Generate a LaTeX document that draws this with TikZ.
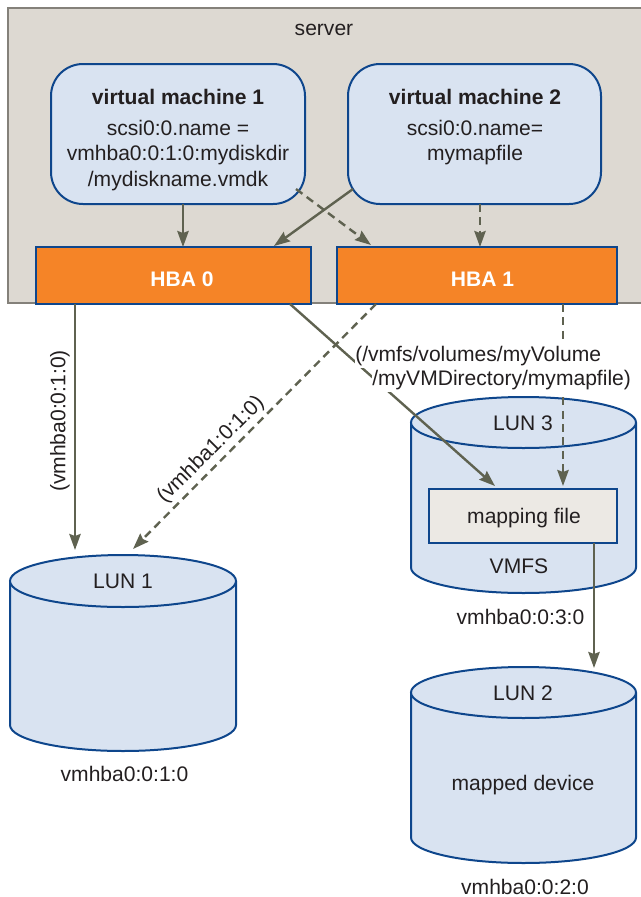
\documentclass[tikz,border=0pt]{standalone}
\usepackage{fontspec}
\setmainfont{Liberation Sans}
\usetikzlibrary{arrows.meta,fit,shapes.geometric}
\definecolor{srvfill}{HTML}{DDD9D2}
\definecolor{srvline}{HTML}{84817A}
\definecolor{vmfill}{HTML}{D9E3F1}
\definecolor{blueline}{HTML}{0E468C}
\definecolor{hbafill}{HTML}{F58427}
\definecolor{mapfill}{HTML}{ECE9E4}
\definecolor{arrowc}{HTML}{5F6250}
\definecolor{txt}{HTML}{231F20}
\newcommand\drawcyl[6]{%
  \fill[vmfill] (#1-#4,#2) -- (#1-#4,#3) arc[start angle=180,end angle=0,x radius=#4,y radius=#5] -- (#1+#4,#2) -- cycle;
  \draw[blueline,line width=1.5pt] (#1-#4,#2) -- (#1-#4,#3) arc[start angle=180,end angle=0,x radius=#4,y radius=#5] -- (#1+#4,#2);
  \node[draw=blueline,fill=vmfill,line width=1.5pt,ellipse,minimum width=2*#4*0.75pt,minimum height=2*#5*0.75pt,inner sep=0pt] (#6) at (#1,#2) {};
}
\begin{document}
\begin{tikzpicture}[x=0.75pt,y=-0.75pt,
  font=\fontsize{15.8}{19}\selectfont, text=txt,
  srv/.style={fit={#1}, inner sep=0pt, draw=srvline, fill=srvfill, line width=1.4pt},
  vm/.style={fit={#1}, inner sep=0pt, draw=blueline, fill=vmfill, line width=1.5pt, rounded corners=24pt},
  hba/.style={fit={#1}, inner sep=0pt, draw=blueline, fill=hbafill, line width=1.5pt},
  mapbox/.style={fit={#1}, inner sep=0pt, draw=blueline, fill=mapfill, line width=1.5pt},
  lbl/.style={anchor=base, inner sep=0pt},
  hbalbl/.style={lbl, text=white, font=\fontsize{15.8}{19}\selectfont\bfseries},
  arr/.style={draw=arrowc, line width=1.8pt, -{Stealth[length=12pt,width=8.5pt,inset=1.5pt]}},
  dsh/.style={arr, dash pattern=on 6pt off 4pt},
  wlbl/.style={anchor=base west, fill=white, inner xsep=0pt, inner ysep=2pt}]
\useasboundingbox (0,0) rectangle (641,897);

% server
\node[srv={(8,8) (650,303)}] (server) {};
\node[lbl] (srvlbl) at (324,35) {server};

% virtual machines
\node[vm={(51,64) (305,204)}] (vm1) {};
\node[vm={(348,64) (601,204)}] (vm2) {};
\node[lbl, font=\fontsize{15.8}{19}\selectfont\bfseries] (vm1a) at (178,104) {virtual machine 1};
\node[lbl] (vm1b) at (178,135) {scsi0:0.name =};
\node[lbl] (vm1c) at (178,160) {vmhba0:0:1:0:mydiskdir};
\node[lbl] (vm1d) at (178,186) {/mydiskname.vmdk};
\node[lbl, font=\fontsize{15.8}{19}\selectfont\bfseries] (vm2a) at (475,104) {virtual machine 2};
\node[lbl] (vm2b) at (475,135) {scsi0:0.name=};
\node[lbl] (vm2c) at (475,160) {mymapfile};

% HBAs
\node[hba={(36,247) (311,304)}] (hba0) {};
\node[hba={(337,247) (617,304)}] (hba1) {};
\node[hbalbl] (hba0lbl) at (182,286) {HBA 0};
\node[hbalbl] (hba1lbl) at (482.5,286) {HBA 1};

% cylinders
\drawcyl{123}{581}{725}{113}{26}{lun1}
\drawcyl{523.5}{422.5}{567.5}{112.5}{25.5}{lun3}
\drawcyl{523.5}{692.5}{837.5}{112.5}{25.5}{lun2}
\node[lbl] (lun1lbl) at (123,588) {LUN 1};
\node[lbl] (lun3lbl) at (523,430) {LUN 3};
\node[lbl] (vmfslbl) at (519,573) {VMFS};
\node[lbl] (lun2lbl) at (523,700) {LUN 2};
\node[lbl] (mappedlbl) at (523,790) {mapped device};
\node[lbl] (id1) at (124.5,781) {vmhba0:0:1:0};
\node[lbl] (id3) at (520.5,624) {vmhba0:0:3:0};
\node[lbl] (id2) at (525,894) {vmhba0:0:2:0};

% mapping file
\node[mapbox={(429,489) (617,543)}] (mapf) {};
\node[lbl] (mapflbl) at (524,523) {mapping file};

% arrow end points
\coordinate (a1s) at (183,204); \coordinate (a1e) at (183,247);
\coordinate (a2s) at (353,189); \coordinate (a2e) at (274,246);
\coordinate (a3s) at (296,189); \coordinate (a3e) at (371,245);
\coordinate (a4s) at (480,204); \coordinate (a4e) at (480,247);
\coordinate (b1s) at (75,304);  \coordinate (b1e) at (75,550);
\coordinate (b2s) at (376,304); \coordinate (b2e) at (133,549);
\coordinate (b3s) at (290,304); \coordinate (b3e) at (495,486);
\coordinate (b4s) at (563,304); \coordinate (b4e) at (563,486);
\coordinate (b5s) at (594,543); \coordinate (b5e) at (594,668);

\draw[arr] (a1s) -- (a1e);
\draw[arr] (a2s) -- (a2e);
\draw[dsh] (a3s) -- (a3e);
\draw[dsh] (a4s) -- (a4e);
\draw[arr] (b1s) -- (b1e);
\draw[dsh] (b2s) -- (b2e);
\draw[arr] (b3s) -- (b3e);
\draw[dsh] (b4s) -- (b4e);
\draw[arr] (b5s) -- (b5e);

% connector labels
\node[rotate=90, inner sep=0pt] (l0) at (60,421) {(vmhba0:0:1:0)};
\node[rotate=45, inner sep=0pt] (l1) at (211,450) {(vmhba1:0:1:0)};
\node[wlbl] (p1) at (355,361) {(/vmfs/volumes/myVolume};
\node[wlbl] (p2) at (372,385) {/myVMDirectory/mymapfile)};
\end{tikzpicture}
\end{document}
